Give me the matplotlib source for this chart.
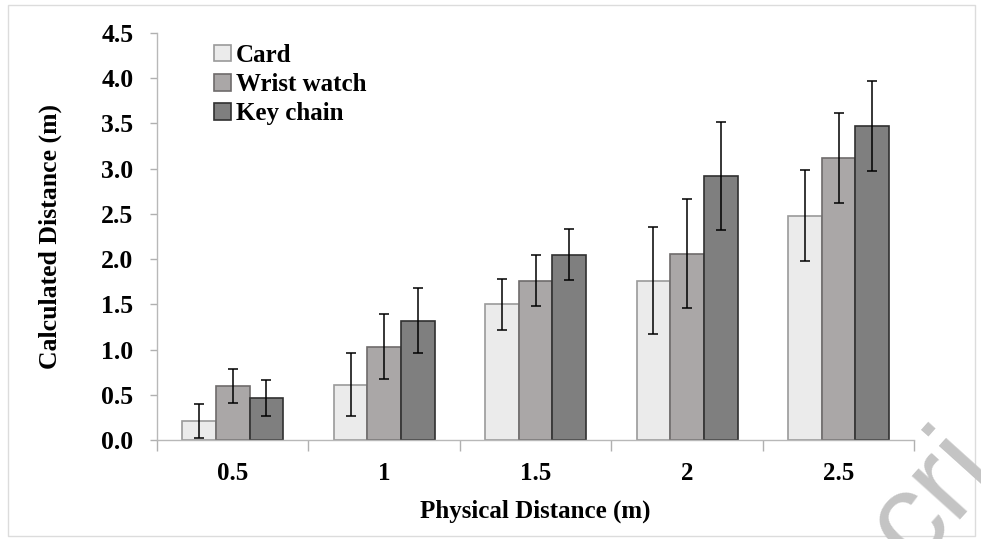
import matplotlib.pyplot as plt
import numpy as np
from matplotlib.patches import Rectangle

plt.rcParams['font.family'] = ['Liberation Serif', 'DejaVu Serif']
plt.rcParams['font.weight'] = 'bold'

distances = ['0.5', '1', '1.5', '2', '2.5']
series = ['Card', 'Wrist watch', 'Key chain']

card = [0.21, 0.61, 1.50, 1.76, 2.48]
card_err = [0.19, 0.35, 0.28, 0.59, 0.50]
watch = [0.60, 1.03, 1.76, 2.06, 3.12]
watch_err = [0.19, 0.36, 0.28, 0.60, 0.50]
keychain = [0.46, 1.32, 2.05, 2.92, 3.47]
keychain_err = [0.20, 0.36, 0.28, 0.60, 0.50]

fills = ['#ebebeb', '#aaa7a7', '#7f7f7f']
edges = ['#9a9a9a', '#6e6b6b', '#303030']

fig = plt.figure(figsize=(9.81, 5.39), dpi=100)
ax = fig.add_axes([0.160, 0.1837, 0.772, 0.7551])

x = np.arange(len(distances))
w = 0.222
for i, (vals, errs) in enumerate([(card, card_err), (watch, watch_err),
                                  (keychain, keychain_err)]):
    ax.bar(x + (i - 1) * w, vals, w, color=fills[i], edgecolor=edges[i],
           linewidth=1.2, label=series[i],
           yerr=errs, capsize=3.5,
           error_kw=dict(ecolor='black', elinewidth=1.1, capthick=1.1))

ax.set_xlim(-0.5, len(distances) - 0.5)
ax.set_ylim(0, 4.5)
ax.set_yticks(np.arange(0, 4.51, 0.5))
ax.set_yticklabels([f'{v:.1f}' for v in np.arange(0, 4.51, 0.5)])

# category separators as major ticks, labels on minor ticks
ax.set_xticks(np.arange(0, len(distances) + 1) - 0.5)
ax.set_xticklabels([])
ax.set_xticks(x, minor=True)
ax.set_xticklabels(distances, minor=True)
ax.tick_params(axis='x', which='major', length=8, color='#b0b0b0', width=1)
ax.tick_params(axis='x', which='minor', length=0, pad=16, labelsize=18)
ax.tick_params(axis='y', length=5, color='#b0b0b0', width=1, pad=12,
               labelsize=18.5)

for s in ['top', 'right']:
    ax.spines[s].set_visible(False)
for s in ['left', 'bottom']:
    ax.spines[s].set_color('#b8b8b8')
    ax.spines[s].set_linewidth(1)

ax.set_xlabel('Physical Distance (m)', fontsize=18, fontweight='bold',
              labelpad=10)
ax.set_ylabel('Calculated Distance (m)', fontsize=18.5, fontweight='bold',
              labelpad=28)

leg = ax.legend(loc='upper left', bbox_to_anchor=(0.056, 1.01), frameon=False,
                fontsize=18, handlelength=0.65, handleheight=0.65,
                handletextpad=0.2, labelspacing=0.25, borderaxespad=0.2)

# thin frame round the whole chart
fig.patches.append(Rectangle((0.008, 0.006), 0.986, 0.985,
                             transform=fig.transFigure, fill=False,
                             edgecolor='#dcdcdc', linewidth=1))

fig.text(0.950, 0.078, 'cri', rotation=48, color='#c4c4c4', fontsize=88,
         family='Liberation Sans', fontweight='normal',
         ha='center', va='center', zorder=10)

fig.savefig('out.png', dpi=100)
